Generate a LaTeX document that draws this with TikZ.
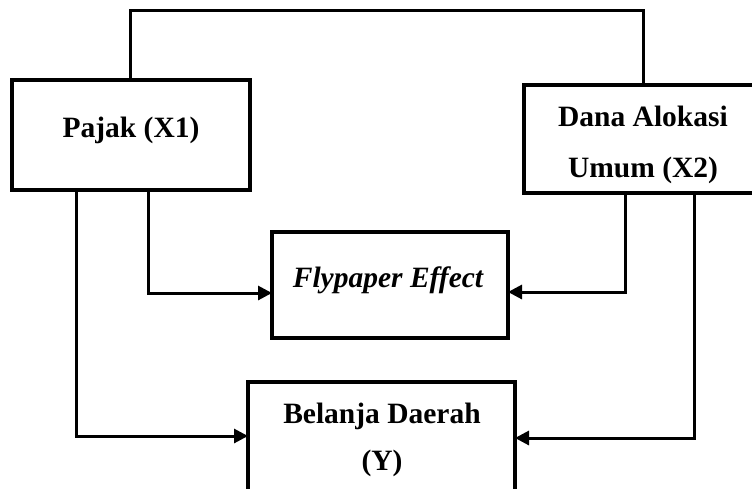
\documentclass[tikz,border=0pt]{standalone}
\usepackage{fontspec}
\setmainfont{Liberation Serif}
\usetikzlibrary{arrows.meta}
\tikzset{
  box/.style={draw=black, line width=4.3pt, fill=white, rectangle, inner sep=0pt, outer sep=0pt},
  conn/.style={draw=black, line width=3pt},
  arr/.style={conn, -{Triangle[length=14pt,width=14pt]}},
  lbl/.style={anchor=base, inner sep=0pt, font=\fontsize{29.5}{30}\selectfont\bfseries},
}
\begin{document}
\begin{tikzpicture}[x=1pt,y=-1pt]
\useasboundingbox (0,0) rectangle (752,488);
% boxes
\node[box, minimum width=238pt, minimum height=110pt] (p) at (131,135) {};
\node[box, minimum width=236pt, minimum height=108pt] (d) at (642,139) {};
\node[box, minimum width=236pt, minimum height=106pt] (f) at (390,285) {};
\node[box, minimum width=267pt, minimum height=130pt] (b) at (381.5,447) {};
% labels
\node[lbl] (pt) at (131,137) {Pajak (X1)};
\node[lbl] (dt1) at (643,126) {Dana Alokasi};
\node[lbl] (dt2) at (643,177) {Umum (X2)};
\node[lbl, font=\fontsize{29.5}{30}\selectfont\bfseries\itshape] (ft) at (388,287) {Flypaper Effect};
\node[lbl] (bt1) at (382,423) {Belanja Daerah};
\node[lbl] (bt2) at (382,470) {(Y)};
% top connector
\coordinate (tl) at (130,10);
\coordinate (tr) at (643,10);
\draw[conn, line join=miter] ([xshift=-1pt]p.north) -- (tl) -- (tr) -- ([xshift=1pt]d.north);
% arrows into Flypaper Effect
\draw[arr] ([xshift=17pt]p.south) |- ([yshift=-8pt]f.west);
\draw[arr] ([xshift=-17pt]d.south) |- ([yshift=-7pt]f.east);
% arrows into Belanja Daerah
\draw[arr] ([xshift=-55pt]p.south) |- ([yshift=11pt]b.west);
\draw[arr] ([xshift=52pt]d.south) |- ([yshift=9pt]b.east);
\end{tikzpicture}
\end{document}
